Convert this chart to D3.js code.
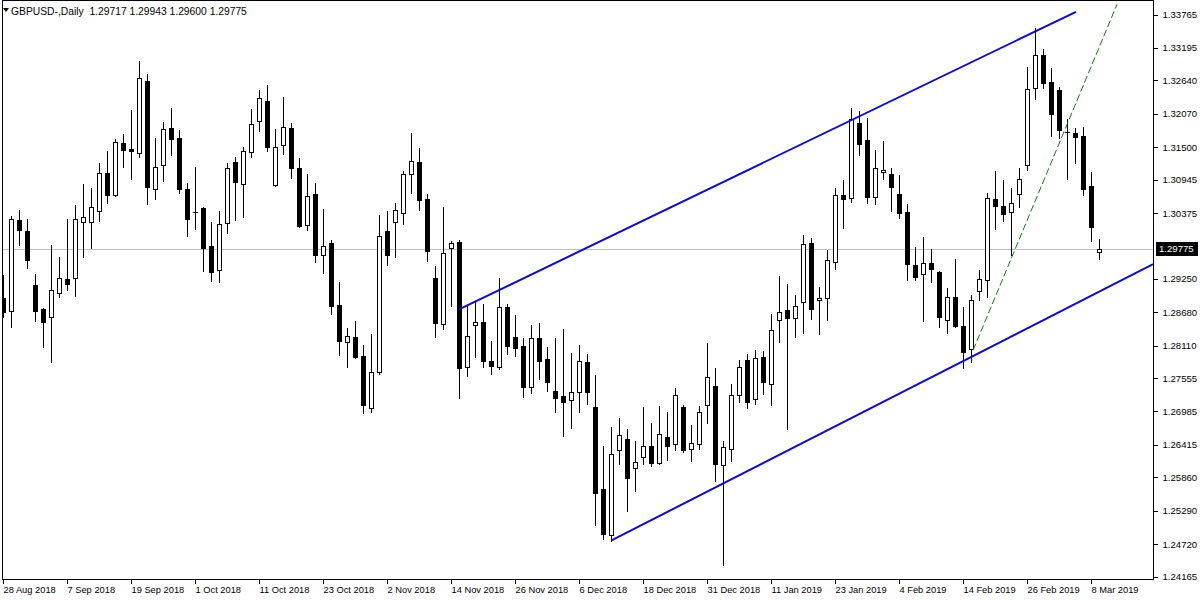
<!DOCTYPE html>
<html>
<head>
<meta charset="utf-8">
<script src="https://cdn.jsdelivr.net/npm/d3@7"></script>
<style>
  html, body { margin: 0; padding: 0; background: #ffffff; }
  svg { display: block; }
  text { font-family: "Liberation Sans", Arial, sans-serif; }
</style>
</head>
<body>
<svg id="chart" width="1200" height="600"></svg>
<script>
// ---------------- DATA ----------------
const symbolTitle = "GBPUSD-,Daily";

const dates = [
"2018-08-28","2018-08-29","2018-08-30","2018-08-31",
"2018-09-03","2018-09-04","2018-09-05","2018-09-06","2018-09-07","2018-09-10","2018-09-11","2018-09-12","2018-09-13","2018-09-14",
"2018-09-17","2018-09-18","2018-09-19","2018-09-20","2018-09-21","2018-09-24","2018-09-25","2018-09-26","2018-09-27","2018-09-28",
"2018-10-01","2018-10-02","2018-10-03","2018-10-04","2018-10-05","2018-10-08","2018-10-09","2018-10-10","2018-10-11","2018-10-12",
"2018-10-15","2018-10-16","2018-10-17","2018-10-18","2018-10-19","2018-10-22","2018-10-23","2018-10-24","2018-10-25","2018-10-26",
"2018-10-29","2018-10-30","2018-10-31",
"2018-11-01","2018-11-02","2018-11-05","2018-11-06","2018-11-07","2018-11-08","2018-11-09","2018-11-12","2018-11-13","2018-11-14",
"2018-11-15","2018-11-16","2018-11-19","2018-11-20","2018-11-21","2018-11-22","2018-11-23","2018-11-26","2018-11-27","2018-11-28",
"2018-11-29","2018-11-30",
"2018-12-03","2018-12-04","2018-12-05","2018-12-06","2018-12-07","2018-12-10","2018-12-11","2018-12-12","2018-12-13","2018-12-14",
"2018-12-17","2018-12-18","2018-12-19","2018-12-20","2018-12-21","2018-12-24","2018-12-26","2018-12-27","2018-12-28","2018-12-31",
"2019-01-02","2019-01-03","2019-01-04","2019-01-07","2019-01-08","2019-01-09","2019-01-10","2019-01-11","2019-01-14","2019-01-15",
"2019-01-16","2019-01-17","2019-01-18","2019-01-21","2019-01-22","2019-01-23","2019-01-24","2019-01-25","2019-01-28","2019-01-29",
"2019-01-30","2019-01-31",
"2019-02-01","2019-02-04","2019-02-05","2019-02-06","2019-02-07","2019-02-08","2019-02-11","2019-02-12","2019-02-13","2019-02-14",
"2019-02-15","2019-02-18","2019-02-19","2019-02-20","2019-02-21","2019-02-22","2019-02-25","2019-02-26","2019-02-27","2019-02-28",
"2019-03-01","2019-03-04","2019-03-05","2019-03-06","2019-03-07","2019-03-08","2019-03-11"
];

const open = [
1.2893,1.2871,1.3026,1.3008,1.2915,1.2874,1.2861,1.2902,1.2926,1.2927,
1.3023,1.3023,1.3042,1.3107,1.3069,1.3158,1.3148,1.3141,1.3264,1.3079,
1.3120,1.3184,1.3166,1.3079,1.3040,1.3047,1.2982,1.2941,1.3021,1.3125,
1.3088,1.3143,1.3195,1.3230,1.3086,1.3155,1.3184,1.3115,1.3018,1.3071,
1.2967,1.2987,1.2881,1.2818,1.2827,1.2794,1.2705,1.2767,1.3008,1.3023,
1.3038,1.3105,1.3125,1.3062,1.2927,1.2849,1.2979,1.2989,1.2775,1.2847,
1.2852,1.2786,1.2775,1.2878,1.2827,1.2811,1.2741,1.2825,1.2789,1.2734,
1.2726,1.2719,1.2733,1.2784,1.2707,1.2567,1.2488,1.2634,1.2652,1.2603,
1.2622,1.2640,1.2611,1.2656,1.2644,1.2707,1.2635,1.2644,1.2710,1.2743,
1.2608,1.2635,1.2728,1.2787,1.2721,1.2792,1.2746,1.2856,1.2873,1.2859,
1.2886,1.2987,1.2890,1.2893,1.2955,1.3069,1.3064,1.3192,1.3163,1.3066,
1.3108,1.3105,1.3071,1.3040,1.2950,1.2934,1.2953,1.2938,1.2856,1.2895,
1.2845,1.2806,1.2905,1.2924,1.3062,1.3050,1.3040,1.3071,1.3120,1.3252,
1.3308,1.3262,1.3248,1.3177,1.3175,1.3170,1.3085,1.29717
];
const high = [
1.2932,1.3033,1.3043,1.3028,1.2934,1.2876,1.2984,1.2963,1.3028,1.3052,
1.3088,1.3081,1.3124,1.3144,1.3165,1.3173,1.3214,1.3298,1.3276,1.3166,
1.3194,1.3218,1.3180,1.3090,1.3117,1.3049,1.3023,1.3042,1.3124,1.3134,
1.3151,1.3216,1.3248,1.3257,1.3182,1.3236,1.3192,1.3132,1.3105,1.3090,
1.3045,1.2992,1.2921,1.2842,1.2854,1.2813,1.2832,1.3035,1.3042,1.3055,
1.3110,1.3175,1.3149,1.3071,1.2948,1.3049,1.2990,1.2992,1.2881,1.2886,
1.2883,1.2820,1.2927,1.2883,1.2864,1.2825,1.2847,1.2850,1.2809,1.2825,
1.2840,1.2799,1.2813,1.2798,1.2762,1.2640,1.2673,1.2688,1.2669,1.2649,
1.2707,1.2680,1.2709,1.2698,1.2739,1.2710,1.2676,1.2709,1.2816,1.2774,
1.2649,1.2746,1.2787,1.2798,1.2804,1.2803,1.2866,1.2931,1.2917,1.2898,
1.3001,1.2996,1.2912,1.2975,1.3081,1.3095,1.3218,1.3213,1.3201,1.3146,
1.3161,1.3115,1.3103,1.3054,1.2980,1.2997,1.2977,1.2939,1.2910,1.2960,
1.2878,1.2898,1.2941,1.3073,1.3110,1.3095,1.3081,1.3115,1.3288,1.3354,
1.3318,1.3286,1.3254,1.3199,1.3184,1.3185,1.3108,1.29943
];
const low = [
1.2861,1.2844,1.2984,1.2944,1.2854,1.2809,1.2784,1.2895,1.2907,1.2897,
1.2963,1.2979,1.3025,1.3055,1.3068,1.3117,1.3096,1.3134,1.3054,1.3062,
1.3093,1.3137,1.3073,1.2999,1.3011,1.2939,1.2922,1.2921,1.3004,1.3026,
1.3031,1.3134,1.3178,1.3144,1.3085,1.3139,1.3098,1.3014,1.3009,1.2955,
1.2936,1.2866,1.2796,1.2775,1.2791,1.2697,1.2698,1.2763,1.2950,1.2963,
1.3020,1.3073,1.3043,1.2956,1.2827,1.2840,1.2880,1.2722,1.2760,1.2792,
1.2775,1.2763,1.2772,1.2798,1.2794,1.2724,1.2731,1.2755,1.2734,1.2698,
1.2658,1.2671,1.2698,1.2712,1.2505,1.2482,1.2478,1.2610,1.2529,1.2564,
1.2610,1.2606,1.2610,1.2616,1.2634,1.2630,1.2615,1.2635,1.2680,1.2581,
1.2437,1.2615,1.2716,1.2705,1.2712,1.2729,1.2710,1.2818,1.2669,1.2827,
1.2833,1.2857,1.2832,1.2856,1.2943,1.3013,1.3057,1.3137,1.3055,1.3054,
1.3096,1.3042,1.3030,1.2924,1.2924,1.2854,1.2921,1.2844,1.2833,1.2844,
1.2774,1.2784,1.2890,1.2895,1.3011,1.3025,1.2967,1.3049,1.3112,1.3233,
1.3252,1.3170,1.3166,1.3096,1.3124,1.3069,1.2991,1.29600
];
const close = [
1.2869,1.3028,1.3009,1.2958,1.2871,1.2852,1.2907,1.2927,1.2917,1.3028,
1.3031,1.3049,1.3107,1.3069,1.3160,1.3146,1.3145,1.3269,1.3083,1.3117,
1.3182,1.3165,1.3079,1.3028,1.3040,1.2979,1.2938,1.3020,1.3115,1.3091,
1.3144,1.3190,1.3235,1.3151,1.3151,1.3185,1.3115,1.3016,1.3067,1.2967,
1.2982,1.2880,1.2820,1.2828,1.2792,1.2710,1.2767,1.2999,1.2967,1.3043,
1.3105,1.3127,1.3061,1.2973,1.2850,1.2970,1.2987,1.2774,1.2828,1.2852,
1.2786,1.2777,1.2878,1.2811,1.2808,1.2741,1.2825,1.2786,1.2750,1.2722,
1.2716,1.2733,1.2786,1.2733,1.2560,1.2490,1.2627,1.2659,1.2586,1.2613,
1.2640,1.2611,1.2661,1.2640,1.2728,1.2634,1.2646,1.2698,1.2758,1.2610,
1.2639,1.2728,1.2775,1.2716,1.2791,1.2750,1.2839,1.2869,1.2859,1.2880,
1.2985,1.2874,1.2893,1.2958,1.3069,1.3062,1.3199,1.3156,1.3066,1.3115,
1.3112,1.3083,1.3038,1.2951,1.2929,1.2953,1.2943,1.2861,1.2895,1.2845,
1.2801,1.2890,1.2926,1.3064,1.3050,1.3037,1.3055,1.3096,1.3250,1.3308,
1.3260,1.3207,1.3180,1.3176,1.3168,1.3079,1.3014,1.29775
];

const yTickValues = [1.33765,1.33195,1.32640,1.32070,1.31500,1.30945,1.30375,
  1.29250,1.28680,1.28110,1.27555,1.26985,1.26415,1.25860,1.25290,1.24720,1.24165];
const yDomain = [1.24165, 1.33765];

const xTickDates = ["2018-08-28","2018-09-07","2018-09-19","2018-10-01","2018-10-11","2018-10-23",
  "2018-11-02","2018-11-14","2018-11-26","2018-12-06","2018-12-18","2018-12-31","2019-01-11",
  "2019-01-23","2019-02-04","2019-02-14","2019-02-26","2019-03-08"];
const xTickLabels = ["28 Aug 2018","7 Sep 2018","19 Sep 2018","1 Oct 2018","11 Oct 2018","23 Oct 2018",
  "2 Nov 2018","14 Nov 2018","26 Nov 2018","6 Dec 2018","18 Dec 2018","31 Dec 2018","11 Jan 2019",
  "23 Jan 2019","4 Feb 2019","14 Feb 2019","26 Feb 2019","8 Mar 2019"];

// trend lines: [bar index, price]
const upperChannel = [[57, 1.2874], [134.06, 1.3382]];
const lowerChannel = [[76, 1.2479], [143.7, 1.2951]];
const greenDashed  = [[121.2, 1.2804], [139.2, 1.3395]];

// ---------------- LAYOUT ----------------
const W = 1200, H = 600;
const plotLeft = 2, plotRight = 1153, plotTop = 0, plotBottom = 579;
const barStep = 8;

const svg = d3.select("#chart");
svg.append("rect").attr("width", W).attr("height", H).attr("fill", "#ffffff");

const n = dates.length;
const x = d3.scaleBand().domain(dates).range([-0.5, -0.5 + barStep * n]).padding(0);
const cx = d => x(d) + x.step() / 2;
const xi = i => x(dates[0]) + x.step() * (i + 0.5);
const y = d3.scaleLinear().domain(yDomain).range([577, 15]);

const candles = dates.map((d, i) => ({ date: d, o: open[i], h: high[i], l: low[i], c: close[i] }));

// clip
svg.append("defs").append("clipPath").attr("id", "plotClip")
  .append("rect").attr("x", plotLeft).attr("y", plotTop + 1)
  .attr("width", plotRight - plotLeft).attr("height", plotBottom - plotTop - 1);

// current price line
const last = candles[n - 1];
svg.append("line")
  .attr("x1", plotLeft).attr("x2", plotRight)
  .attr("y1", Math.round(y(last.c)) + 0.5).attr("y2", Math.round(y(last.c)) + 0.5)
  .attr("stroke", "#c0c0c0").attr("stroke-width", 1).attr("shape-rendering", "crispEdges");

// candles
const cg = svg.append("g").attr("clip-path", "url(#plotClip)").attr("shape-rendering", "crispEdges");
cg.selectAll("line.wick").data(candles).join("line")
  .attr("class", "wick")
  .attr("x1", d => cx(d.date)).attr("x2", d => cx(d.date))
  .attr("y1", d => Math.round(y(d.h))).attr("y2", d => Math.round(y(d.l)) + 1)
  .attr("stroke", "#000").attr("stroke-width", 1);

const bear = candles.filter(d => d.c <= d.o);
const bull = candles.filter(d => d.c > d.o);
cg.selectAll("rect.bear").data(bear).join("rect")
  .attr("class", "bear")
  .attr("x", d => cx(d.date) - 2.5).attr("width", 5)
  .attr("y", d => Math.round(y(d.o)))
  .attr("height", d => Math.max(1, Math.round(y(d.c)) - Math.round(y(d.o)) + 1))
  .attr("fill", "#000");
cg.selectAll("rect.bull").data(bull).join("rect")
  .attr("class", "bull")
  .attr("x", d => cx(d.date) - 2).attr("width", 4)
  .attr("y", d => Math.round(y(d.c)) + 0.5)
  .attr("height", d => Math.max(1, Math.round(y(d.o)) - Math.round(y(d.c))))
  .attr("fill", "#fff").attr("stroke", "#000").attr("stroke-width", 1);

// trend lines
const lg = svg.append("g").attr("clip-path", "url(#plotClip)");
const lineGen = d3.line().x(p => xi(p[0])).y(p => y(p[1]));
lg.append("path").attr("d", lineGen(upperChannel))
  .attr("fill", "none").attr("stroke", "#0c0cc8").attr("stroke-width", 2);
lg.append("path").attr("d", lineGen(lowerChannel))
  .attr("fill", "none").attr("stroke", "#0c0cc8").attr("stroke-width", 2);
lg.append("path").attr("d", lineGen(greenDashed))
  .attr("fill", "none").attr("stroke", "#0a7a0a").attr("stroke-width", 1)
  .attr("stroke-dasharray", "7,3");

// frame
svg.append("path")
  .attr("d", `M${plotLeft + 0.5},${plotTop + 0.5}H${plotRight + 0.5}V${plotBottom + 0.5}H${plotLeft + 0.5}Z`)
  .attr("fill", "none").attr("stroke", "#000").attr("stroke-width", 1)
  .attr("shape-rendering", "crispEdges");

// y axis
const yAxis = d3.axisRight(y).tickValues(yTickValues).tickSize(4).tickPadding(5)
  .tickFormat(d3.format(".5f")).offset(0);
const ya = svg.append("g").attr("transform", `translate(${plotRight + 0.5},0)`).call(yAxis);
ya.select(".domain").remove();
ya.selectAll(".tick line").attr("stroke", "#000").attr("shape-rendering", "crispEdges");
ya.selectAll(".tick text").attr("font-size", 9.6).attr("fill", "#000")
  .attr("font-family", "'Liberation Sans', Arial, sans-serif");

// x axis
const fmtIdx = new Map(xTickDates.map((d, i) => [d, xTickLabels[i]]));
const xAxis = d3.axisBottom(x).tickValues(xTickDates).tickSize(4).offset(0)
  .tickFormat(d => fmtIdx.get(d));
const xa = svg.append("g").attr("transform", `translate(0,${plotBottom + 0.5})`).call(xAxis);
xa.select(".domain").remove();
xa.selectAll(".tick line").attr("stroke", "#000").attr("shape-rendering", "crispEdges");
xa.selectAll(".tick text").attr("font-size", 9.3).attr("fill", "#000")
  .attr("text-anchor", "start").attr("x", 0).attr("y", 7)
  .attr("font-family", "'Liberation Sans', Arial, sans-serif");

// current price label box
const py = y(last.c);
svg.append("rect").attr("x", 1156).attr("y", Math.round(py) - 7).attr("width", 42).attr("height", 14)
  .attr("fill", "#000");
svg.append("text").attr("x", 1159).attr("y", py).attr("dy", "0.35em")
  .attr("font-size", 9.6).attr("fill", "#fff").text(d3.format(".5f")(last.c));

// header
svg.append("path").attr("d", "M3,8 L9,8 L6,12 Z").attr("fill", "#000");
const fmt5 = d3.format(".5f");
svg.append("text").attr("x", 11).attr("y", 15).attr("font-size", 10.3).attr("fill", "#000")
  .attr("xml:space", "preserve")
  .text(`${symbolTitle}  ${fmt5(last.o)} ${fmt5(last.h)} ${fmt5(last.l)} ${fmt5(last.c)}`);
</script>
</body>
</html>
